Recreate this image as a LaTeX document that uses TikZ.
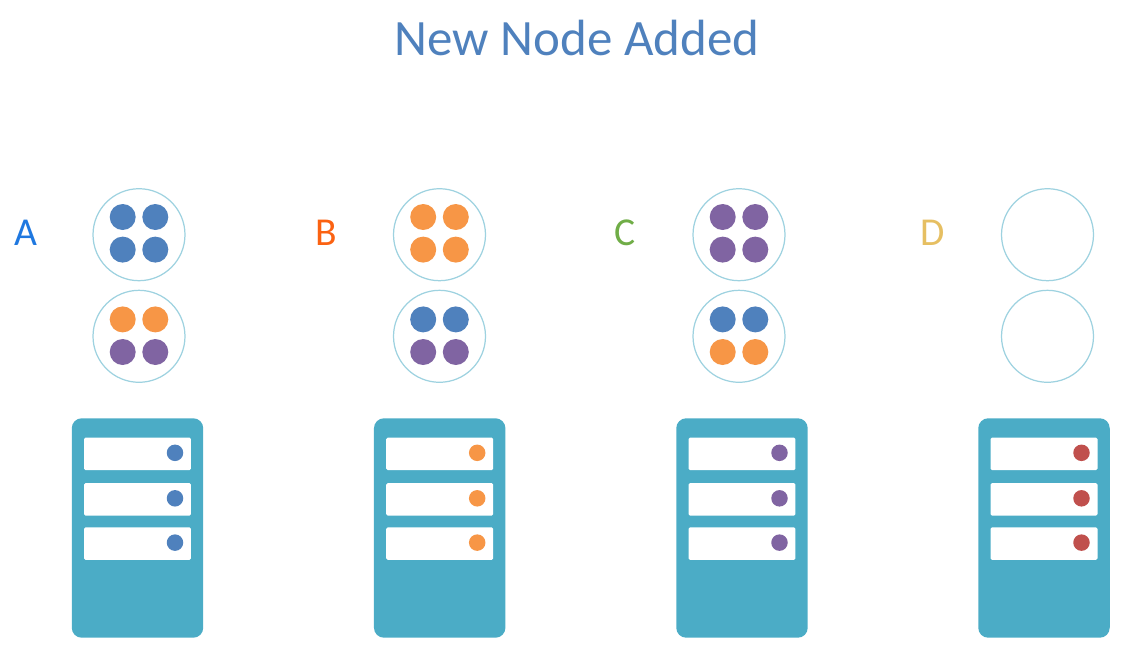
\documentclass[tikz,border=0pt]{standalone}
\usepackage{fontspec}
\setmainfont{Carlito}
\definecolor{dblue}{HTML}{4F81BD}
\definecolor{dorange}{HTML}{F79646}
\definecolor{dpurple}{HTML}{8064A2}
\definecolor{dred}{HTML}{C0504D}
\definecolor{srvteal}{HTML}{4BACC6}
\definecolor{ringblue}{HTML}{9ED2E0}
\definecolor{lblA}{HTML}{1F78E0}
\definecolor{lblB}{HTML}{FB6212}
\definecolor{lblC}{HTML}{70AD47}
\definecolor{lblD}{HTML}{E6BF62}

\begin{document}
\begin{tikzpicture}[x=0.02cm,y=-0.02cm,
  ttl/.style={font=\fontsize{29pt}{30pt}\selectfont,text=dblue,inner sep=0pt},
  lbl/.style={font=\fontsize{22.5pt}{24pt}\selectfont,inner sep=0pt},
  ring/.style={circle,draw=ringblue,fill=white,line width=0.7pt,minimum size=1.84cm,inner sep=0pt},
  dot/.style={circle,minimum size=0.52cm,inner sep=0pt},
  srv/.style={rounded corners=0.2cm,fill=srvteal,minimum width=2.63cm,minimum height=4.39cm,inner sep=0pt},
  slot/.style={rounded corners=0.03cm,fill=white,minimum width=2.14cm,minimum height=0.65cm,inner sep=0pt},
  led/.style={circle,minimum size=0.33cm,inner sep=0pt},
]

%% Canvas
\useasboundingbox (0,0) rectangle (1136,664);

%% Layout parameters
\def\dOff{16.3}   % dot offset in a ring
\def\ringT{234.7} % upper ring
\def\ringB{336.3} % lower ring
\def\dotT{233.3}  % centre of the dots, upper ring
\def\dotB{335.7}  % centre of the dots, lower ring

%% ---- Title ----
\node[ttl] (title) at (577,37.5) {New Node Added};

%% ---- Servers ----
\foreach \nm/\lx/\rx/\sx/\ltr/\dA/\dB/\dC/\ledc in {
  A/25.5/139/137.5/lblA/dblue/dorange/dpurple/dblue,
  B/326/439.5/439.7/lblB/dorange/dblue/dpurple/dorange,
  C/625.5/739/742/lblC/dpurple/dblue/dorange/dpurple,
  D/933/1047.5/1044/lblD/none/none/none/dred}{
  \node[lbl,text=\ltr] (lbl\nm) at (\lx,233) {\nm};
  \node[ring] (ringT\nm) at (\rx,\ringT) {};
  \node[ring] (ringB\nm) at (\rx,\ringB) {};

  %% upper ring holds one colour, lower ring two rows
  \node[dot,fill=\dA] (dotTa\nm) at (\rx-\dOff,\dotT-\dOff) {};
  \node[dot,fill=\dA] (dotTb\nm) at (\rx+\dOff,\dotT-\dOff) {};
  \node[dot,fill=\dA] (dotTc\nm) at (\rx-\dOff,\dotT+\dOff) {};
  \node[dot,fill=\dA] (dotTd\nm) at (\rx+\dOff,\dotT+\dOff) {};
  \node[dot,fill=\dB] (dotBa\nm) at (\rx-\dOff,\dotB-\dOff) {};
  \node[dot,fill=\dB] (dotBb\nm) at (\rx+\dOff,\dotB-\dOff) {};
  \node[dot,fill=\dC] (dotBc\nm) at (\rx-\dOff,\dotB+\dOff) {};
  \node[dot,fill=\dC] (dotBd\nm) at (\rx+\dOff,\dotB+\dOff) {};

  \node[srv] (srv\nm) at (\sx,528) {};
  \foreach \i/\y in {1/453.8,2/499.3,3/543.6}{
    \node[slot] (slot\nm\i) at (\sx,\y) {};
    \node[led,fill=\ledc] (led\nm\i) at (\sx+37.5,\y-1) {};
  }
}

\end{tikzpicture}
\end{document}
